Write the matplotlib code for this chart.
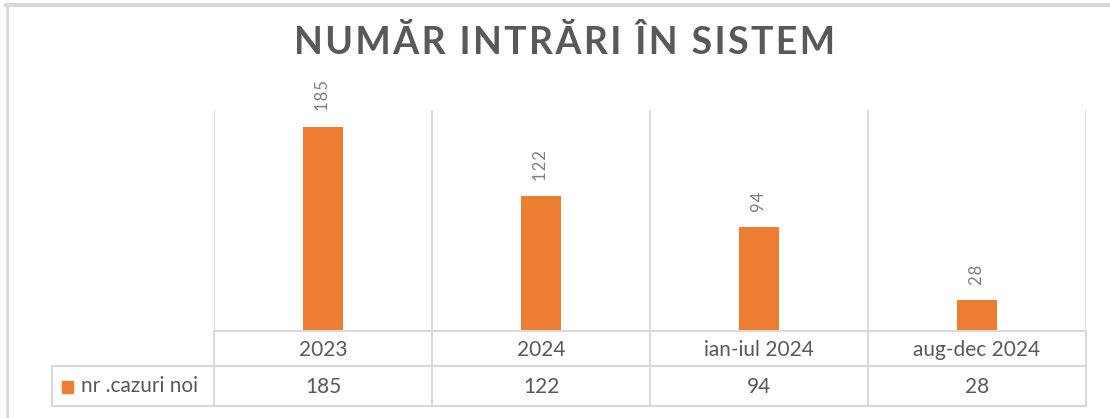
import matplotlib
matplotlib.use("Agg")
import matplotlib.pyplot as plt
from matplotlib.lines import Line2D
from matplotlib.patches import Rectangle

categories = ["2023", "2024", "ian-iul 2024", "aug-dec 2024"]
values = [185, 122, 94, 28]
series_name = "nr .cazuri noi"
title = "NUMĂR INTRĂRI ÎN SISTEM"

W, H = 1110, 418
fig = plt.figure(figsize=(W / 100, H / 100), dpi=100)
fig.patch.set_facecolor("white")

FONT = ["Lato", "DejaVu Sans"]
GRID = "#d9d9d9"
TXT = "#595959"
ORANGE = "#ED7D31"

def fx(px):
    return px / W

def fy(py):
    return 1 - py / H

# plot area
L, R, T, B = 214, 1086, 110, 331
ax = fig.add_axes([fx(L), fy(B), fx(R) - fx(L), fy(T) - fy(B)])
n = len(categories)
xs = [i + 0.5 for i in range(n)]
ax.bar(xs, values, width=0.183, color=ORANGE, zorder=3)
ax.set_xlim(0, n)
ax.set_ylim(0, 200)
ax.axis("off")
for i in range(n + 1):
    ax.axvline(i, color=GRID, lw=1.3, zorder=1)
for x, v in zip(xs, values):
    ax.annotate("\u200a".join(str(v)), (x, v), xytext=(0, 11), textcoords="offset points",
                rotation=90, ha="center", va="bottom", color="#7f7f7f",
                fontsize=12, family=FONT)

def hline(py, x0, x1):
    fig.add_artist(Line2D([fx(x0), fx(x1)], [fy(py), fy(py)], color=GRID, lw=1.5,
                          transform=fig.transFigure))

def vline(px, y0, y1):
    fig.add_artist(Line2D([fx(px), fx(px)], [fy(y0), fy(y1)], color=GRID, lw=1.5,
                          transform=fig.transFigure))

# data table
row1_top, row1_bot, row2_bot = 331, 366, 406
leg_left = 52
hline(row1_top, L, R)
hline(row1_bot, leg_left, R)
hline(row2_bot, leg_left, R)
vline(leg_left, row1_bot, row2_bot)
cw = (R - L) / n
for i in range(n + 1):
    vline(L + i * cw, row1_top, row2_bot)

for i, (c, v) in enumerate(zip(categories, values)):
    cx = L + (i + 0.5) * cw
    fig.text(fx(cx), fy((row1_top + row1_bot) / 2 + 1), c, ha="center", va="center",
             fontsize=15, color=TXT, family=FONT)
    fig.text(fx(cx), fy((row1_bot + row2_bot) / 2 + 1), str(v), ha="center", va="center",
             fontsize=15, color=TXT, family=FONT)

# legend key
fig.add_artist(Rectangle((fx(62), fy(393)), fx(11), fy(381) - fy(393),
                         color=ORANGE, transform=fig.transFigure))
fig.text(fx(81), fy(386.5), series_name, ha="left", va="center",
         fontsize=15, color=TXT, family=FONT)

# title
spaced = "\u200a".join(title)
fig.text(fx(565), fy(42), spaced, ha="center", va="center", fontsize=27,
         fontweight="bold", color=TXT, family=FONT)

# chart border (top and left visible)
fig.add_artist(Line2D([fx(6), 1], [fy(5), fy(5)], color=GRID, lw=3,
                      transform=fig.transFigure))
fig.add_artist(Line2D([fx(7), fx(7)], [fy(5), 0], color=GRID, lw=2,
                      transform=fig.transFigure))

fig.savefig("out.png", dpi=100)
